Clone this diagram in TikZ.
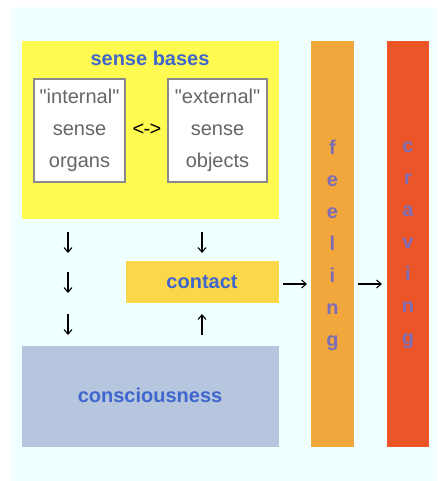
\documentclass[tikz,border=0pt]{standalone}
\usepackage{fontspec}
\setmainfont{Liberation Sans}[Ligatures=TeXOff]
\usetikzlibrary{fit,arrows.meta}
\definecolor{bgc}{HTML}{F0FFFF}
\definecolor{yel}{HTML}{FFFB50}
\definecolor{cont}{HTML}{FBD84A}
\definecolor{feel}{HTML}{F2A73C}
\definecolor{crav}{HTML}{EC5528}
\definecolor{consc}{HTML}{B5C6DE}
\definecolor{bluet}{HTML}{3F66CC}
\definecolor{purt}{HTML}{7B6DB8}
\definecolor{grayt}{HTML}{666666}
\definecolor{grayb}{HTML}{8A8A8A}
\begin{document}
\begin{tikzpicture}[x=0.75pt,y=-0.75pt,
  every node/.style={font=\fontsize{15}{24}\selectfont},
  area/.style={inner sep=0pt,outer sep=0pt,draw=none},
  bluelabel/.style={text=bluet,font=\fontsize{15}{24}\selectfont\bfseries},
  sensebox/.style={area,draw=grayb,line width=1pt,fill=white},
  graytext/.style={text=grayt,align=center,inner sep=0pt},
  bartext/.style={text=purt,align=center,inner sep=0pt,font=\fontsize{15}{24}\selectfont\bfseries},
  arr/.style={line width=0.8pt,-{Straight Barb[length=3.5pt,width=6pt]}}]
\useasboundingbox (0,0) rectangle (437,481);
\fill[bgc] (11,7) rectangle (437,481);
% sense bases
\node[area,fill=yel,fit={(22,41) (279,219)}] (bases) {};
\node[bluelabel] (basestitle) at (150,58) {sense bases};
\node[sensebox,fit={(34,79) (125,182)}] (internal) {};
\node[graytext] (internaltext) at (79.5,130) {"internal"\\sense\\organs};
\node[sensebox,fit={(168,79) (267,182)}] (external) {};
\node[graytext] (externaltext) at (217.5,130) {"external"\\sense\\objects};
\node (link) at (147,130) {<\kern-0.5pt-\kern-0.5pt>};
% contact and consciousness
\node[area,fill=cont,fit={(126,261) (279,303)}] (contact) {};
\node[bluelabel] (contacttext) at (202,282) {contact};
\node[area,fill=consc,fit={(22,346) (279,447)}] (consc) {};
\node[bluelabel] (consctext) at (150,395) {consciousness};
% bars
\node[area,fill=feel,fit={(311,41) (354,447)}] (feeling) {};
\node[bartext] (feelingtext) at (332.5,245) {f\\e\\e\\l\\i\\n\\g};
\node[area,fill=crav,fit={(387,41) (429,447)}] (craving) {};
\node[bartext] (cravingtext) at (408,245) {c\\r\\a\\v\\i\\n\\g};
% arrow end points
\coordinate (l1a) at (68,232); \coordinate (l1b) at (68,253);
\coordinate (l2a) at (68,272); \coordinate (l2b) at (68,293);
\coordinate (l3a) at (68,314); \coordinate (l3b) at (68,335);
\coordinate (r1a) at (202,232); \coordinate (r1b) at (202,253);
\coordinate (r2a) at (202,335); \coordinate (r2b) at (202,314);
\coordinate (h1a) at (283,284); \coordinate (h1b) at (307,284);
\coordinate (h2a) at (358,284); \coordinate (h2b) at (382,284);
\draw[arr] (l1a) -- (l1b);
\draw[arr] (l2a) -- (l2b);
\draw[arr] (l3a) -- (l3b);
\draw[arr] (r1a) -- (r1b);
\draw[arr] (r2a) -- (r2b);
\draw[arr] (h1a) -- (h1b);
\draw[arr] (h2a) -- (h2b);
\end{tikzpicture}
\end{document}
